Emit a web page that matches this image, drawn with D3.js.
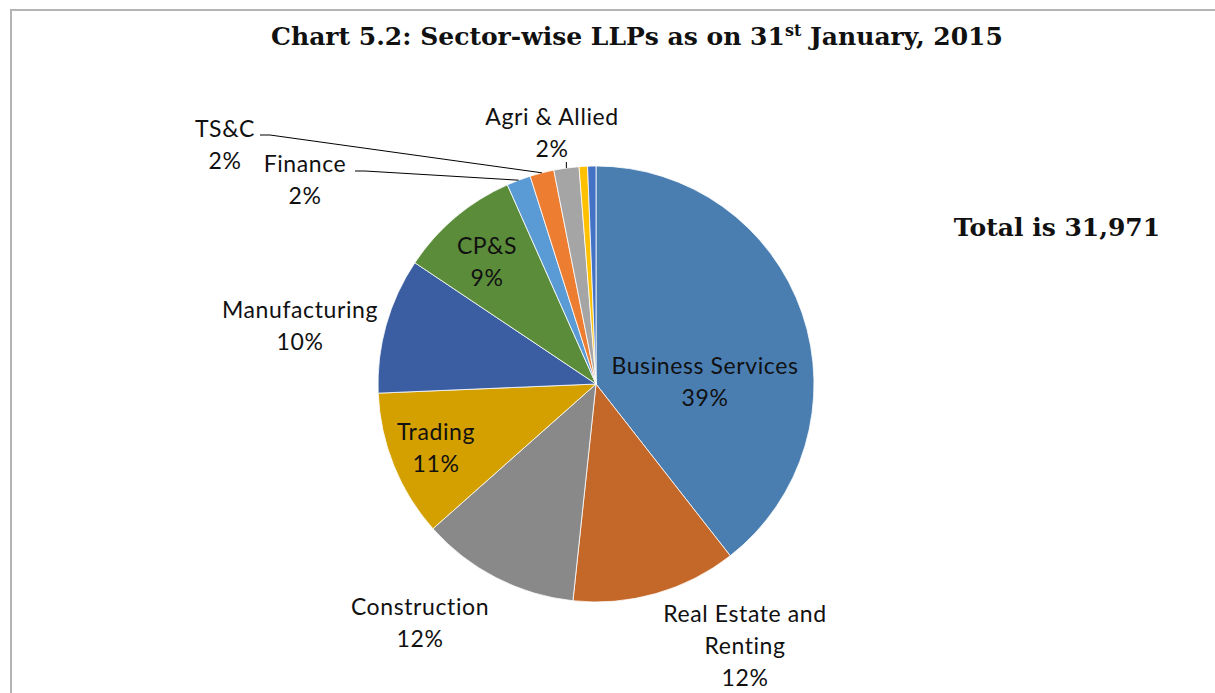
<!DOCTYPE html>
<html>
<head>
<meta charset="utf-8">
<script src="https://cdn.jsdelivr.net/npm/d3@7"></script>
<style>
  body { margin: 0; background: #fff; }
  text { fill: #111; }
</style>
</head>
<body>
<div id="plot"></div>
<script>
// sectors, clockwise from 12 o'clock
const sectors = ["Business Services", "Real Estate and Renting", "Construction", "Trading",
  "Manufacturing", "CP&S", "Finance", "TS&C", "Agri & Allied", "Others", "Unclassified"];
const llps = [12610, 3915, 3760, 3480, 3215, 2860, 570, 570, 595, 200, 196];
const sliceColors = ["#4a7eb1", "#c4682a", "#898989", "#d3a000", "#3b5ea2", "#5b8c3a",
  "#5b9bd5", "#ed7d31", "#a5a5a5", "#ffc000", "#4472c4"];
// label text lines (percent appended below), null = no label
const labelLines = [["Business Services"], ["Real Estate and", "Renting"], ["Construction"], ["Trading"],
  ["Manufacturing"], ["CP&S"], ["Finance"], ["TS&C"], ["Agri & Allied"], null, null];
const total = "Total is 31,971";

const width = 1215, height = 693;
const cx = 596, cy = 384, r = 218;

const svg = d3.select("#plot").append("svg")
    .attr("width", width)
    .attr("height", height);

svg.append("rect")
    .attr("width", width).attr("height", height).attr("fill", "#fff");

// frame around the chart (right and bottom run off the picture)
svg.append("rect")
    .attr("x", 11).attr("y", 10)
    .attr("width", 1400).attr("height", 900)
    .attr("fill", "none")
    .attr("stroke", "#b4b4b4")
    .attr("stroke-width", 2);

// title
const title = svg.append("text")
    .attr("x", 637).attr("y", 45)
    .attr("text-anchor", "middle")
    .style("font-family", "'DejaVu Serif', serif")
    .style("font-weight", "bold")
    .style("font-size", "25px");
title.append("tspan").text("Chart 5.2: Sector-wise LLPs as on 31");
title.append("tspan").text("st").attr("dy", -9).style("font-size", "16px");
title.append("tspan").text(" January, 2015").attr("dy", 9);

svg.append("text")
    .attr("x", 1057).attr("y", 236)
    .attr("text-anchor", "middle")
    .style("font-family", "'DejaVu Serif', serif")
    .style("font-weight", "bold")
    .style("font-size", "25px")
    .text(total);

const data = sectors.map((s, i) => ({ name: s, value: llps[i], color: sliceColors[i], lines: labelLines[i] }));
const sum = d3.sum(llps);

const pie = d3.pie().sort(null).value(d => d.value);
const arcs = pie(data);
const arc = d3.arc().innerRadius(0).outerRadius(r);
const edge = d3.arc().innerRadius(r).outerRadius(r);

const g = svg.append("g").attr("transform", `translate(${cx},${cy})`);

g.selectAll("path")
    .data(arcs)
    .enter()
    .append("path")
    .attr("d", arc)
    .attr("fill", d => d.data.color)
    .attr("stroke", "#fff")
    .attr("stroke-width", 0.8);

// label centres relative to pie centre
const labelPos = {
  "Business Services": [109, -2],
  "Real Estate and Renting": [149, 262],
  "Construction": [-176, 239],
  "Trading": [-160, 64],
  "Manufacturing": [-296, -58],
  "CP&S": [-109, -122],
  "Finance": [-291, -204],
  "TS&C": [-371, -239],
  "Agri & Allied": [-44, -251]
};
// leader lines: where the label end of the line sits
const leaderStart = {
  "Finance": [-241, -213],
  "TS&C": [-336, -249],
  "Agri & Allied": [-30, -222]
};

const lineH = 32;
arcs.forEach(d => {
  if (!d.data.lines) return;
  const pos = labelPos[d.data.name];
  const lines = d.data.lines.concat([Math.round(d.data.value / sum * 100) + "%"]);
  const top = pos[1] - (lines.length - 1) * lineH / 2;
  const t = g.append("text")
      .attr("text-anchor", "middle")
      .style("font-family", "Lato, 'Open Sans', sans-serif")
      .style("font-size", "23px")
      .style("letter-spacing", "0.6px");
  lines.forEach((ln, k) => {
    t.append("tspan")
        .attr("x", pos[0])
        .attr("y", top + k * lineH + 8)
        .text(ln);
  });

  const ls = leaderStart[d.data.name];
  if (ls) {
    const end = edge.centroid(d);
    const pts = d.data.name === "Agri & Allied"
      ? [[end[0], ls[1]], end]
      : [ls, [ls[0] + 10, ls[1]], end];
    g.append("path")
        .attr("d", d3.line()(pts))
        .attr("fill", "none")
        .attr("stroke", "#000")
        .attr("stroke-width", 1);
  }
});
</script>
</body>
</html>
